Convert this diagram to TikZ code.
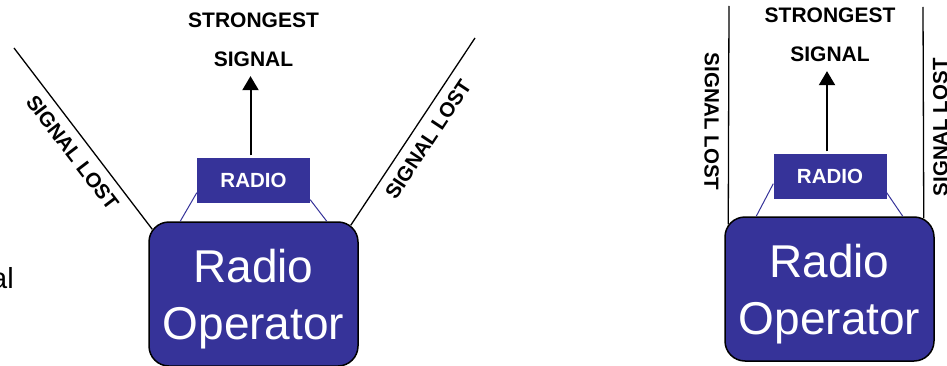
\documentclass[tikz,border=0pt]{standalone}
\usepackage{fontspec}
\setmainfont{Liberation Sans}
\usetikzlibrary{arrows.meta}
\definecolor{radioblue}{HTML}{363399}

\begin{document}
\begin{tikzpicture}[x=1pt, y=1pt,
  opbox/.style={draw=black, line width=1.5pt, fill=radioblue, rounded corners=20pt,
    minimum width=209pt, minimum height=144pt, inner sep=0pt},
  optext/.style={text=white, align=center, font=\fontsize{46}{57}\selectfont},
  radiobox/.style={fill=radioblue, text=white, minimum width=113pt, minimum height=45pt,
    inner sep=0pt, font=\fontsize{20.5}{24}\selectfont\bfseries},
  toplabel/.style={align=center, inner sep=0pt, font=\fontsize{21}{39}\selectfont\bfseries},
  lostlabel/.style={sloped, allow upside down, below, inner sep=9pt,
    font=\fontsize{20.5}{24}\selectfont\bfseries},
  lostline/.style={line width=1.3pt},
  strap/.style={draw=radioblue, line width=1pt},
  signal/.style={line width=2pt, shorten <=2pt, shorten >=9pt, -{Triangle[length=14pt, width=16pt]}}]
  \useasboundingbox (0,0) rectangle (947,365);

  % Cut-off text at the left edge
  \node[anchor=base east, inner sep=0pt, font=\fontsize{29}{30}\selectfont] (cutoff) at (14,77) {al};

  % Left: antenna tilted, signal lost on both slants
  \node[opbox] (opL) at (253.5,71) {};
  \node[optext] (opLtext) at (253.5,65.4) {Radio\\Operator};
  \node[radiobox] (radL) at (253.5,185) {RADIO};
  \node[toplabel] (strL) at (253.5,325) {STRONGEST\\SIGNAL};
  \coordinate (farL) at (14,317);
  \coordinate (farR) at (475,327);

  \draw[strap] ([yshift=10]radL.south west) -- ([xshift=32]opL.north west);
  \draw[strap] ([yshift=3]radL.south east) -- ([xshift=-32]opL.north east);
  \draw[signal] ([xshift=-3]radL.north) -- ([xshift=-3]strL.south);
  \draw[lostline] (farL) -- node[lostlabel, pos=0.52] {SIGNAL LOST}
    ([shift={(4,-8)}]opL.north west);
  \draw[lostline] ([shift={(-8,-4)}]opL.north east) -- node[lostlabel, pos=0.51] {SIGNAL LOST}
    (farR);

  % Right: antenna upright, signal lost on both sides
  \node[opbox] (opR) at (829.5,76) {};
  \node[optext] (opRtext) at (829.5,70.4) {Radio\\Operator};
  \node[radiobox] (radR) at (830,189) {RADIO};
  \node[toplabel] (strR) at (830,330) {STRONGEST\\SIGNAL};
  \coordinate (topL) at (729,359);
  \coordinate (topR) at (923,358);

  \draw[strap] ([yshift=15]radR.south west) -- ([xshift=32]opR.north west);
  \draw[strap] ([yshift=6]radR.south east) -- ([xshift=-32]opR.north east);
  \draw[signal] ([xshift=-3]radR.north) -- ([xshift=-3]strR.south);
  \draw[lostline] (topL) -- node[lostlabel, pos=0.53] {SIGNAL LOST}
    ([shift={(4,-8)}]opR.north west);
  \draw[lostline] ([shift={(-11,-2)}]opR.north east) -- node[lostlabel, pos=0.43] {SIGNAL LOST}
    (topR);
\end{tikzpicture}
\end{document}
